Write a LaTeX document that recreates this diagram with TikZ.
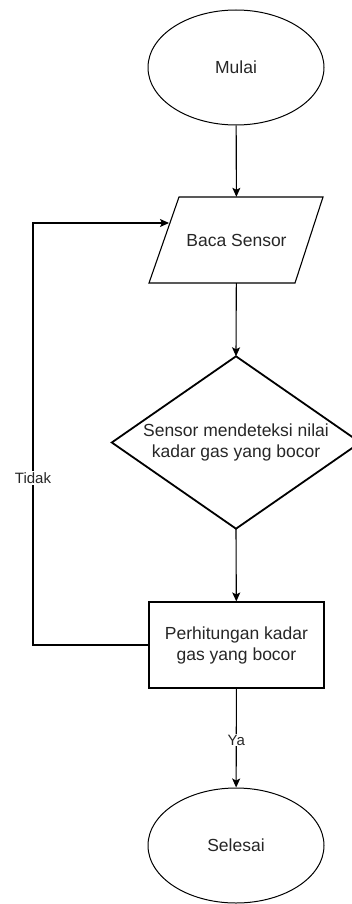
\documentclass[tikz,border=0pt]{standalone}
\usepackage{fontspec}
\setmainfont{Liberation Sans}
\usetikzlibrary{arrows.meta,shapes.geometric}
\begin{document}
\begin{tikzpicture}[x=1pt,y=-1pt,
  txt/.style={font=\fontsize{17.5}{21}\selectfont, align=center, text=black!85},
  term/.style={txt, draw=black, line width=1pt, ellipse, minimum width=176pt, minimum height=115pt, inner sep=0pt},
  procbox/.style={txt, draw=black, line width=1.1pt, rectangle, minimum width=175pt, minimum height=86pt, inner sep=0pt},
  holder/.style={txt, rectangle, inner sep=0pt},
  shapeline/.style={draw=black, line width=1.1pt, line join=miter},
  arr/.style={draw=black, line width=1.1pt, -{Stealth[length=9pt,width=8pt,inset=2pt]}},
  lbl/.style={font=\fontsize{15}{18}\selectfont, fill=white, inner sep=1pt, text=black!85}
]
\useasboundingbox (0,0) rectangle (352,904);

\node[term] (start) at (236,67.5) {Mulai};

\node[holder, minimum width=146pt, minimum height=86pt] (bs) at (236.5,240) {Baca Sensor};
\draw[shapeline] (149,283) -- (179,197) -- (323,197) -- (295,283) -- cycle;

\node[holder, minimum width=248pt, minimum height=172pt] (dec) at (236,442.5) {Sensor mendeteksi nilai\\kadar gas yang bocor};
\begin{scope}
  \clip (0,0) rectangle (352,904);
  \draw[shapeline, line width=1.8pt] (dec.north) -- (dec.east) -- (dec.south) -- (dec.west) -- cycle;
\end{scope}

\node[procbox] (calc) at (236.5,645) {Perhitungan kadar\\gas yang bocor};

\node[term] (end) at (236,845.5) {Selesai};

\coordinate (fb) at (169,223);
\coordinate (cl) at (33,645);

\draw[arr] (start) -- (bs);
\draw[arr] (bs) -- (dec.north);
\draw[arr] (dec.south) -- (calc);
\draw[arr] (calc) -- node[lbl, pos=0.52] (ya) {Ya} (end);
\draw[arr] (calc.west) -- (cl) |- (fb);
\node[lbl] (tidak) at (33,478) {Tidak};
\end{tikzpicture}
\end{document}
